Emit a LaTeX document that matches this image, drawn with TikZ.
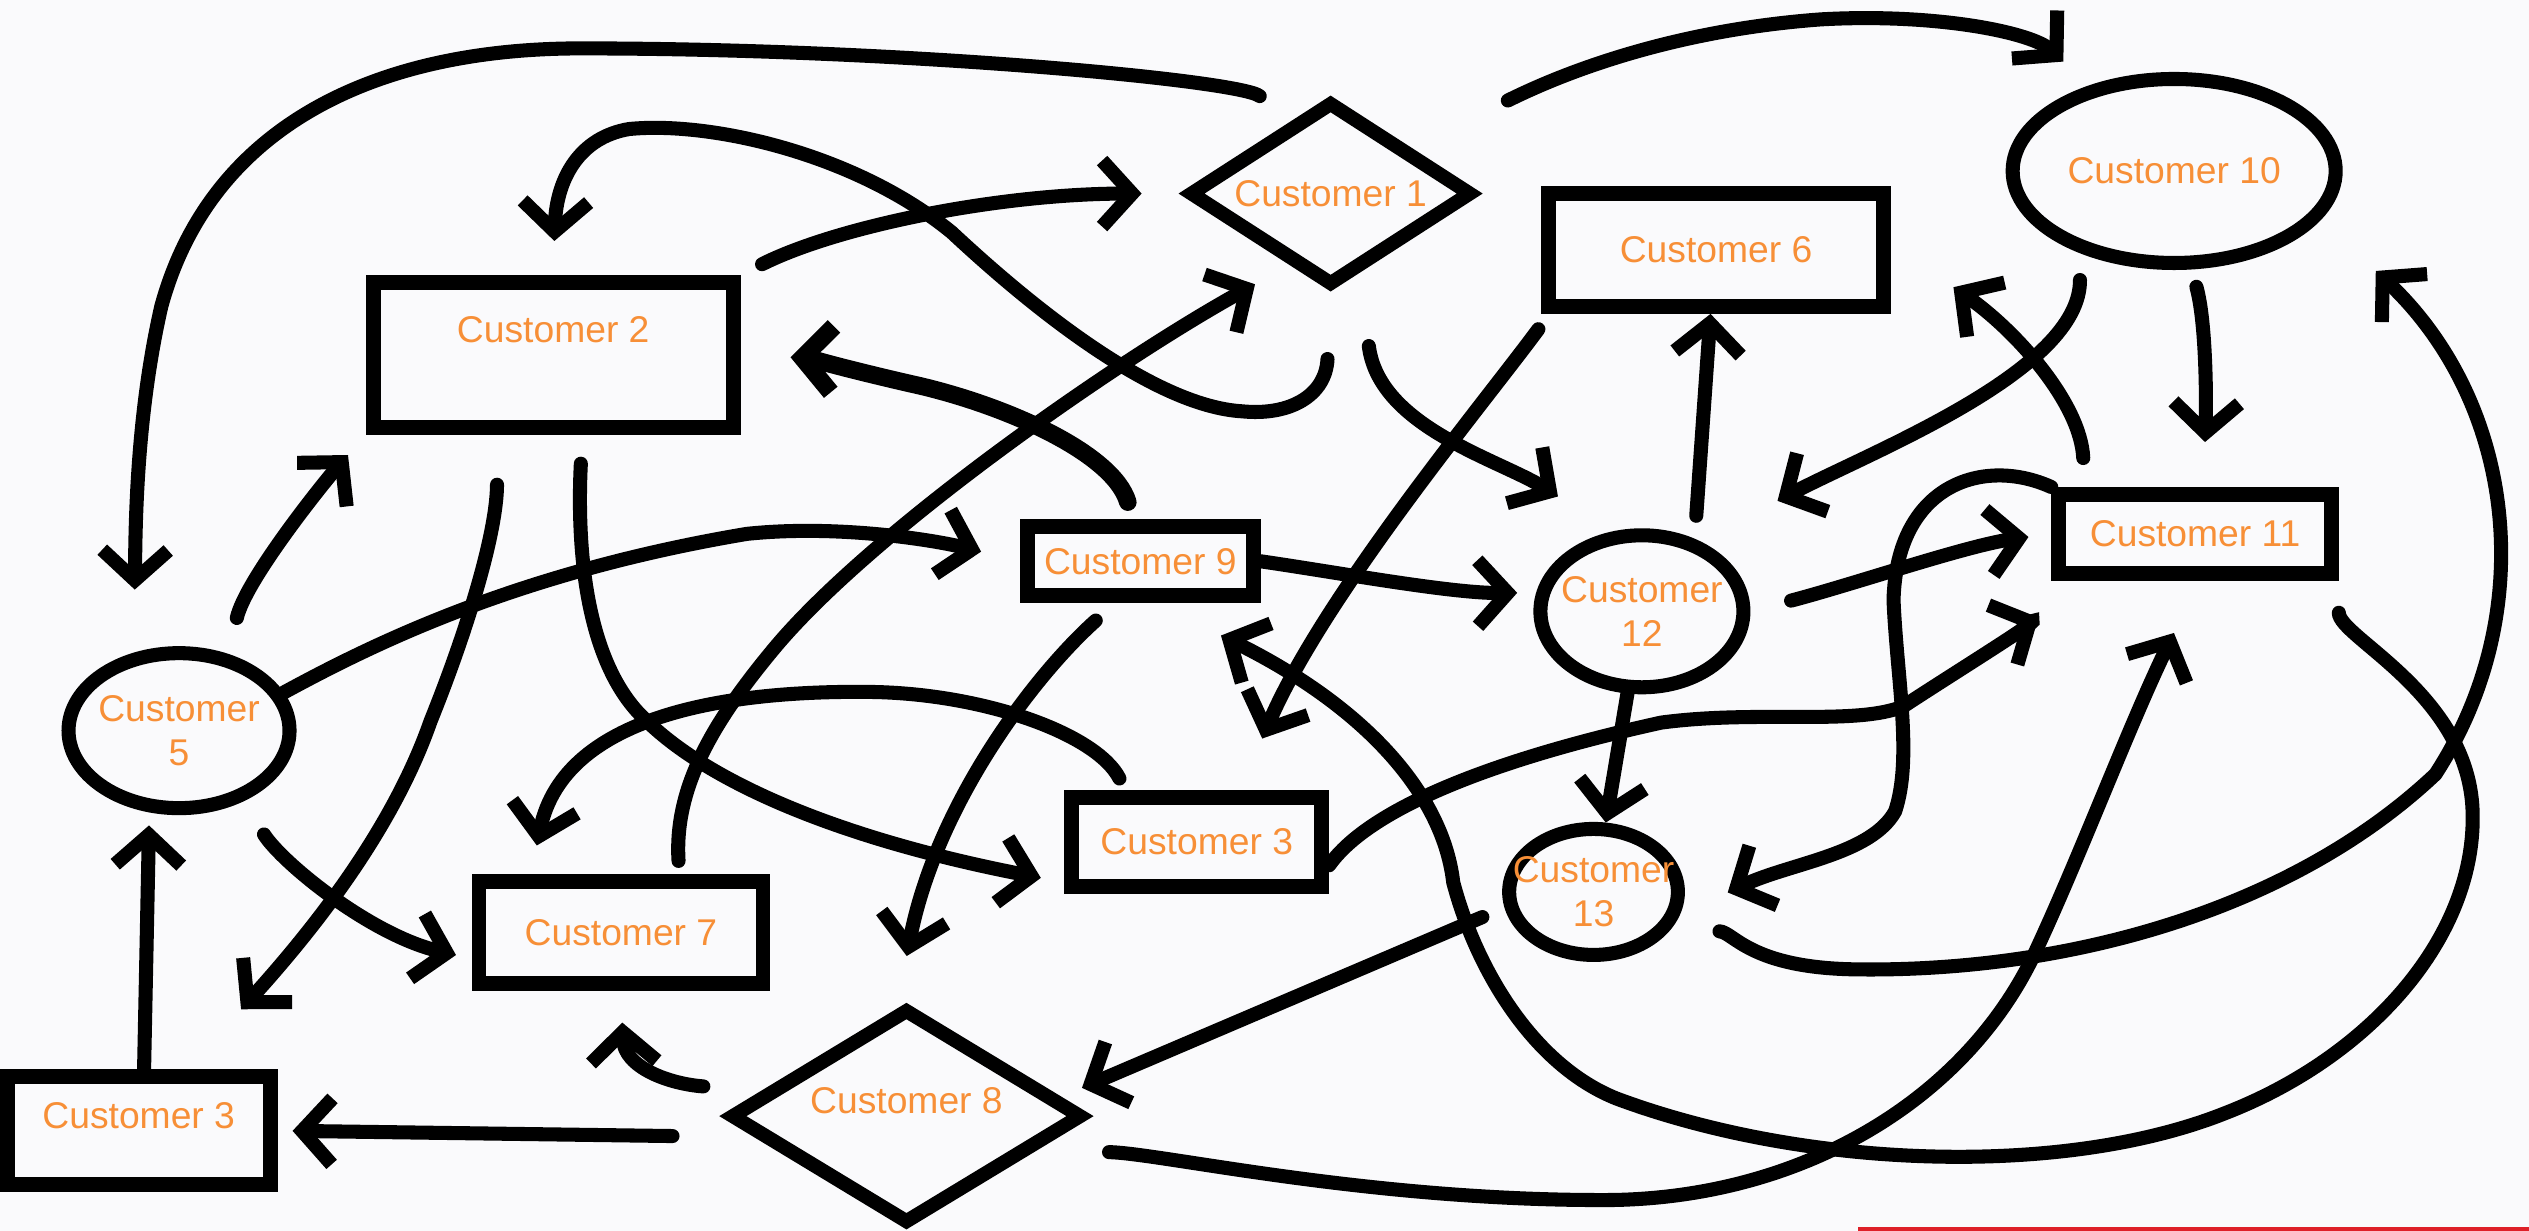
\documentclass[tikz,border=0pt]{standalone}
\usepackage{fontspec}
\setmainfont{Liberation Sans}
\usetikzlibrary{shapes.geometric,arrows.meta}
\definecolor{custorange}{RGB}{247,143,55}
\definecolor{boardwhite}{RGB}{250,250,252}
\definecolor{stripred}{RGB}{222,32,40}
\tikzset
{
	custtext/.style = {text=custorange, font=\fontsize{10.6}{12.5}\selectfont, align=center},
	boxnode/.style = {rectangle, draw=black, line width=4.2pt, custtext},
	diamondnode/.style = {diamond, draw=black, line width=4pt, inner sep=0pt, aspect=1.6, custtext},
	roundnode/.style = {ellipse, draw=black, line width=4pt, inner xsep=-6pt, inner ysep=0pt, custtext},
	link/.style = {line width=4pt, line cap=round, -{Straight Barb[length=3mm,width=6.6mm]}},
	heavylink/.style = {link, line width=5pt}
}

\begin{document}
\begin{tikzpicture}[x=0.01613cm, y=-0.01613cm]
\fill[boardwhite] (0,0) rectangle (1568,763);
\useasboundingbox (0,0) rectangle (1568,763);
\fill[stripred] (1152,761) rectangle (1568,763);

\node[diamondnode, minimum width=2.84cm, minimum height=1.85cm] (c1) at (825,120) {Customer 1};
\node[boxnode, minimum width=3.6cm, minimum height=1.45cm, text depth=0.5cm] (c2) at (343,220) {Customer 2};
\node[boxnode, minimum width=2.5cm, minimum height=0.89cm] (c3a) at (742,522) {Customer 3};
\node[boxnode, minimum width=2.63cm, minimum height=1.08cm, text depth=0.3cm] (c3b) at (86,701) {Customer 3};
\node[roundnode, minimum width=2.21cm, minimum height=1.55cm] (c5) at (111,453) {Customer\\5};
\node[boxnode, minimum width=3.35cm, minimum height=1.13cm] (c6) at (1064,155) {Customer 6};
\node[boxnode, minimum width=2.84cm, minimum height=1.02cm] (c7) at (385,578) {Customer 7};
\node[diamondnode, minimum width=3.53cm, minimum height=2.16cm, text depth=0.32cm] (c8) at (562,692) {Customer 8};
\node[boxnode, minimum width=2.26cm, minimum height=0.69cm] (c9) at (707,348) {Customer 9};
\node[roundnode, minimum width=3.23cm, minimum height=1.84cm] (c10) at (1348,106) {Customer 10};
\node[boxnode, minimum width=2.73cm, minimum height=0.79cm] (c11) at (1361,331) {Customer 11};
\node[roundnode, minimum width=2.03cm, minimum height=1.52cm] (c12) at (1018,379) {Customer\\12};
\node[roundnode, minimum width=1.68cm, minimum height=1.26cm] (c13) at (988,553) {Customer\\13};
\coordinate (c10tip) at (1473,168);

\draw[link, shorten <=0.39cm, shorten >=0.63cm] (c1.120) .. controls (770,50) and (560,30) .. (360,30) .. controls (230,30) and (130,80) .. (100,190) .. controls (84,260) and (84,330) .. (c5.120);
\draw[link, shorten <=0.37cm, shorten >=0.27cm] (c5.57) .. controls (152,360) and (200,300) .. (c2.south west);
\draw[link, shorten <=0.66cm, shorten >=0.34cm] (c1.south) .. controls (822,245) and (800,258) .. (770,255) .. controls (720,252) and (650,200) .. (590,144) .. controls (530,95) and (440,75) .. (390,80) .. controls (360,85) and (345,110) .. (c2.north);
\draw[link, shorten <=0.24cm, shorten >=0.40cm] (c2.north east) .. controls (520,140) and (620,120) .. (c1.west);
\draw[heavylink, shorten <=0.18cm, shorten >=0.50cm] (c9.100) .. controls (690,280) and (620,250) .. (565,238) .. controls (530,230) and (500,222) .. (c2.east);
\draw[link, shorten <=0.13cm, shorten >=0.39cm] (c7.45) .. controls (418,490) and (440,450) .. (480,402) .. controls (540,330) and (690,225) .. (c1.240);
\draw[link, shorten >=0.40cm] (c5.20) .. controls (230,400) and (320,355) .. (463,331) .. controls (520,325) and (580,335) .. (c9.west);
\draw[link, shorten <=0.50cm, shorten >=0.81cm] (c2.235) .. controls (308,330) and (290,390) .. (267,447) .. controls (245,510) and (200,570) .. (c3b.52);
\draw[link, shorten <=0.29cm, shorten >=0.24cm] (c2.290) .. controls (358,330) and (360,410) .. (401,447) .. controls (440,485) and (520,520) .. (c3a.197);
\draw[link, shorten <=0.39cm, shorten >=0.16cm] (c5.312) .. controls (175,535) and (230,580) .. (c7.190);
\draw[link, shorten >=0.13cm] (c3b.85) -- (c5.250);
\draw[link, shorten <=0.84cm, shorten >=0.15cm] (c8.188) -- (c3b.east);
\draw[link, shorten <=0.60cm, shorten >=0.32cm] (c8.170) .. controls (415,672) and (387,662) .. (c7.south);
\draw[link, shorten <=0.13cm, shorten >=0.29cm] (c3a.144) .. controls (680,455) and (610,430) .. (540,429) .. controls (460,428) and (350,440) .. (c7.147);
\draw[link, shorten <=0.26cm, shorten >=0.52cm] (c9.239) .. controls (640,420) and (580,500) .. (c8.95);
\draw[link, shorten >=0.19cm] (c9.east) .. controls (830,355) and (900,368) .. (c12.170);
\draw[link, shorten <=0.73cm, shorten >=0.65cm] (c1.290) .. controls (855,265) and (930,285) .. (c12.110);
\draw[link, shorten <=0.19cm, shorten >=0.56cm] (c6.201) .. controls (920,250) and (820,370) .. (c3a.50);
\draw[link, shorten <=0.23cm] (c12.54) -- (c6.265);
\draw[link, shorten <=0.27cm, shorten >=0.87cm] (c10.221) .. controls (1290,230) and (1160,280) .. (c12.50);
\draw[link, shorten <=0.29cm, shorten >=0.76cm] (c11.157) .. controls (1290,250) and (1250,205) .. (c6.2);
\draw[link, shorten <=0.18cm, shorten >=0.45cm] (c10.280) .. controls (1368,200) and (1368,250) .. (c11.80);
\draw[link, shorten <=1.08cm, shorten >=0.35cm] (c1.30) .. controls (950,55) and (1020,20) .. (1129,12) .. controls (1200,8) and (1260,20) .. (c10.135);
\draw[link, shorten <=0.42cm, shorten >=0.23cm] (c12.east) .. controls (1150,362) and (1220,338) .. (c11.west);
\draw[link, shorten >=0.53cm] (c11.north west) .. controls (1230,283) and (1176,300) .. (1174,372) .. controls (1176,420) and (1186,470) .. (1175,503) .. controls (1160,530) and (1110,535) .. (c13.345);
\draw[link] (c12.260) -- (c13.80);
\draw[link, shorten <=0.48cm] (c13.335) .. controls (1075,578) and (1085,600) .. (1150,601) .. controls (1280,603) and (1420,565) .. (1510,480) .. controls (1575,380) and (1560,250) .. (c10tip);
\draw[link, shorten <=0.32cm, shorten >=0.73cm] (c11.south east) .. controls (1450,395) and (1530,430) .. (1533,502) .. controls (1536,580) and (1470,655) .. (1380,690) .. controls (1280,730) and (1120,725) .. (1002,681) .. controls (950,660) and (915,600) .. (901,547) .. controls (895,495) and (850,440) .. (c9.290);
\draw[link, shorten <=0.74cm, shorten >=0.58cm] (c8.345) .. controls (720,715) and (850,745) .. (1000,744) .. controls (1120,742) and (1220,680) .. (1262,590) .. controls (1290,530) and (1320,450) .. (c11.275);
\draw[link, shorten <=0.24cm, shorten >=0.24cm] (c13.190) -- (c8.7);
\draw[link, shorten >=0.84cm] (c3a.350) .. controls (850,500) and (930,470) .. (1030,448) .. controls (1090,440) and (1150,450) .. (1180,438) .. controls (1215,415) and (1280,375) .. (c11.210);
\end{tikzpicture}
\end{document}
